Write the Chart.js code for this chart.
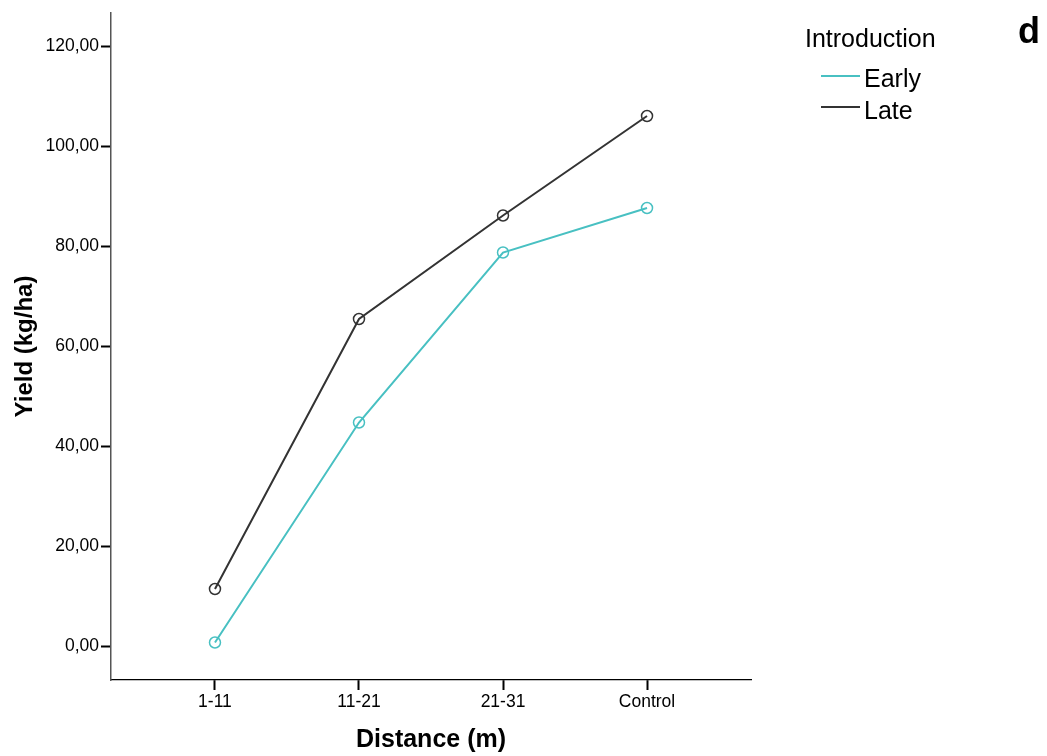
<!DOCTYPE html>
<html>
<head>
<meta charset="utf-8">
<script src="https://cdn.jsdelivr.net/npm/chart.js@4.4.1/dist/chart.umd.min.js"></script>
<style>
  html, body { margin: 0; padding: 0; background: #fff; }
  #wrap { position: relative; width: 1047px; height: 756px; }
  #chart { position: absolute; left: 0; top: 0; }
  .txt { position: absolute; font-family: "Liberation Sans", Arial, sans-serif; color: #000; line-height: 1; white-space: nowrap; }
  .swatch { position: absolute; height: 2px; }
</style>
</head>
<body>
<div id="wrap">
  <canvas id="chart" width="1047" height="756"></canvas>
  <div class="txt" style="left:805px; top:25.5px; font-size:25px;">Introduction</div>
  <div class="swatch" style="left:821px; top:74.5px; width:39px; background:#48c0c2;"></div>
  <div class="txt" style="left:864px; top:66px; font-size:25px;">Early</div>
  <div class="swatch" style="left:821px; top:106px; width:39px; background:#333333;"></div>
  <div class="txt" style="left:864px; top:98px; font-size:25px;">Late</div>
  <div class="txt" style="left:1018px; top:13px; font-size:36px; font-weight:bold;">d</div>
</div>
<script>
// Distance classes along the x axis
const distances = ['1-11', '11-21', '21-31', 'Control'];
// Mean yield (kg/ha) per introduction time
const earlyYield = [0.8, 44.8, 78.8, 87.7];
const lateYield = [11.5, 65.5, 86.2, 106.1];
// Y axis tick values
const yTickValues = [0, 20, 40, 60, 80, 100, 120];

const FONT = '"Liberation Sans", Arial, sans-serif';

const toPoints = vals => vals.map((v, i) => ({ x: i, y: v }));

new Chart(document.getElementById('chart'), {
  type: 'line',
  data: {
    datasets: [
      {
        label: 'Early',
        data: toPoints(earlyYield),
        borderColor: '#48c0c2',
        backgroundColor: 'rgba(0,0,0,0)',
        borderWidth: 2,
        pointRadius: 5.5,
        pointBorderWidth: 1.5,
        pointBorderColor: '#48c0c2',
        pointBackgroundColor: 'rgba(0,0,0,0)',
        tension: 0
      },
      {
        label: 'Late',
        data: toPoints(lateYield),
        borderColor: '#333333',
        backgroundColor: 'rgba(0,0,0,0)',
        borderWidth: 2,
        pointRadius: 5.5,
        pointBorderWidth: 1.5,
        pointBorderColor: '#333333',
        pointBackgroundColor: 'rgba(0,0,0,0)',
        tension: 0
      }
    ]
  },
  options: {
    responsive: false,
    animation: false,
    devicePixelRatio: 1,
    layout: { padding: { top: 13, right: 296, bottom: 0, left: 0 } },
    plugins: { legend: { display: false }, tooltip: { enabled: false } },
    scales: {
      x: {
        type: 'linear',
        min: -0.722,
        max: 3.722,
        afterBuildTicks: s => { s.ticks = distances.map((_, i) => ({ value: i })); },
        afterFit: s => { s.height = 76; },
        ticks: {
          callback: v => distances[v],
          color: '#000',
          font: { family: FONT, size: 17.5 },
          padding: 2,
          maxRotation: 0,
          autoSkip: false
        },
        grid: { drawOnChartArea: false, drawTicks: true, tickLength: 10, tickWidth: 2, tickColor: '#000' },
        border: { display: true, color: '#000', width: 1.2 },
        title: {
          display: true,
          text: 'Distance (m)',
          color: '#000',
          font: { family: FONT, size: 25, weight: 'bold' },
          padding: { top: 0, bottom: 1 }
        }
      },
      y: {
        type: 'linear',
        min: -6.7,
        max: 126.7,
        afterBuildTicks: s => { s.ticks = yTickValues.map(v => ({ value: v })); },
        afterFit: s => { s.width = 111; },
        ticks: {
          callback: v => v.toFixed(2).replace('.', ','),
          color: '#000',
          font: { family: FONT, size: 17.5 },
          padding: 2
        },
        grid: { drawOnChartArea: false, drawTicks: true, tickLength: 10, tickWidth: 2, tickColor: '#000' },
        border: { display: true, color: '#555', width: 1.5 },
        title: {
          display: true,
          text: 'Yield (kg/ha)',
          color: '#000',
          font: { family: FONT, size: 24, weight: 'bold' },
          padding: { top: 11, bottom: 0 }
        }
      }
    }
  }
});
</script>
</body>
</html>
